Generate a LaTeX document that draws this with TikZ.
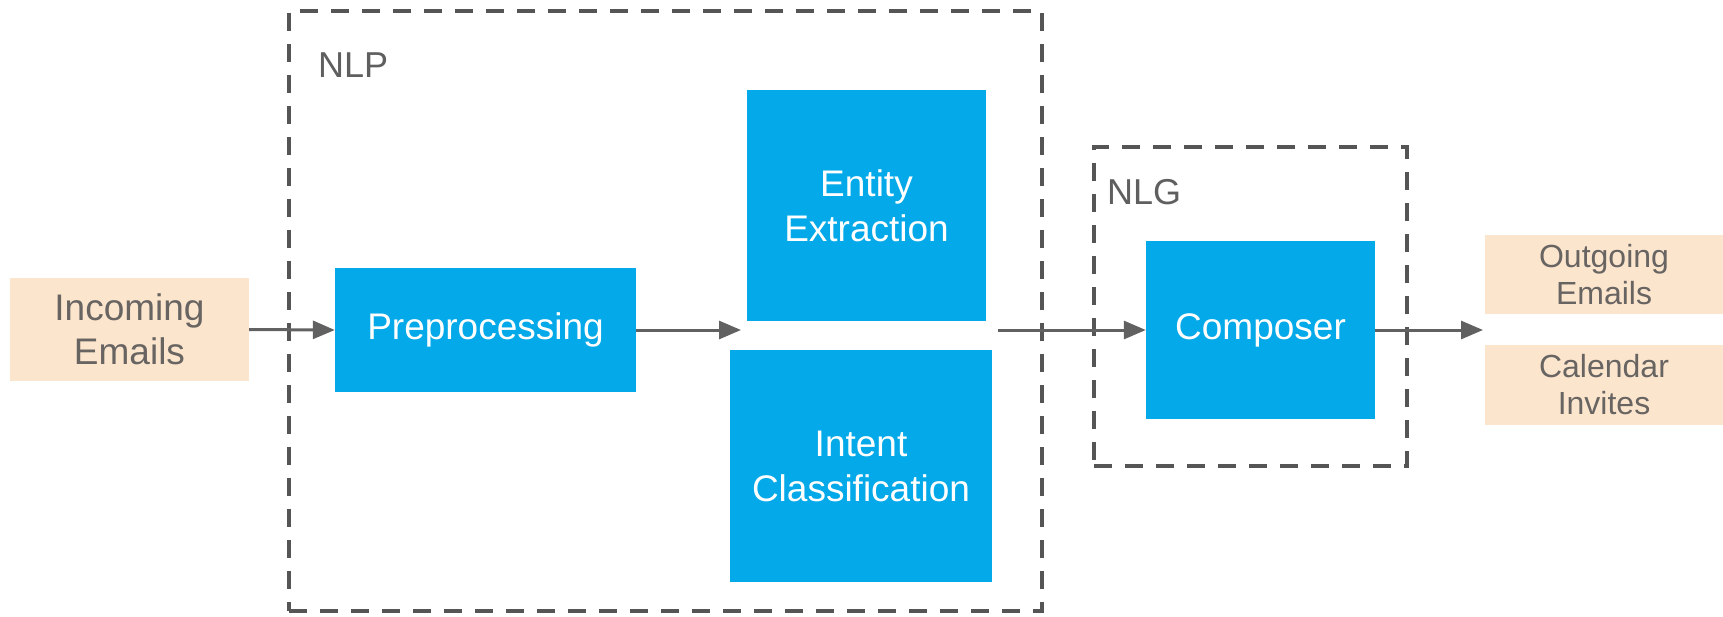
\documentclass[tikz,border=0pt]{standalone}
\usepackage{fontspec}
\setmainfont{Liberation Sans}
\usetikzlibrary{arrows.meta}
\definecolor{boxblue}{RGB}{3,169,232}
\definecolor{peach}{RGB}{252,229,205}
\definecolor{peachtext}{RGB}{104,100,98}
\definecolor{dashgray}{RGB}{85,85,85}
\definecolor{labelgray}{RGB}{95,95,95}
\definecolor{arrowgray}{RGB}{97,97,97}
\tikzset{
  bluebox/.style={fill=boxblue, draw=none, text=white, inner sep=0pt, align=center,
    font=\fontsize{37}{45}\selectfont},
  peachbox/.style={fill=peach, draw=none, text=peachtext, inner sep=0pt, align=center},
  groupbox/.style={draw=dashgray, line width=3.5pt, dash pattern=on 18pt off 13pt, inner sep=0pt},
  grouplabel/.style={text=labelgray, anchor=base west, inner sep=0pt, font=\fontsize{36}{43}\selectfont},
  flow/.style={draw=arrowgray, line width=3pt, -{Triangle[length=22pt,width=18pt]}}
}
\begin{document}
\begin{tikzpicture}[x=1pt,y=-1pt]
\useasboundingbox (0,0) rectangle (1723,616);
% group boxes
\node[groupbox, minimum width=753pt, minimum height=600pt] (nlp) at (665.5,311) {};
\node[groupbox, minimum width=313pt, minimum height=319pt] (nlg) at (1250.5,306.5) {};
\node[grouplabel] (nlplabel) at (318,77) {NLP};
\node[grouplabel] (nlglabel) at (1107,204) {NLG};
% nodes
\node[peachbox, minimum width=239pt, minimum height=103pt, font=\fontsize{37}{44}\selectfont] (inc) at (129.5,329.5) {Incoming\\Emails};
\node[bluebox, minimum width=301pt, minimum height=124pt] (pre) at (485.5,330) {Preprocessing};
\node[bluebox, minimum width=239pt, minimum height=231pt] (ent) at (866.5,205.5) {Entity\\Extraction};
\node[bluebox, minimum width=262pt, minimum height=232pt] (int) at (861,466) {Intent\\Classification};
\node[bluebox, minimum width=229pt, minimum height=178pt] (comp) at (1260.5,330) {Composer};
\node[peachbox, minimum width=238pt, minimum height=79pt, font=\fontsize{32}{37}\selectfont] (out) at (1604,274.5) {Outgoing\\Emails};
\node[peachbox, minimum width=238pt, minimum height=80pt, font=\fontsize{32}{37}\selectfont] (cal) at (1604,385) {Calendar\\Invites};
% connector ends
\coordinate (mid1) at (741,330);
\coordinate (mid2) at (998,330);
\coordinate (outtip) at (1483,330);
% connectors
\draw[flow] (inc.east) -- (pre.west);
\draw[flow] (pre.east) -- (mid1);
\draw[flow] (mid2) -- (comp.west);
\draw[flow] (comp.east) -- (outtip);
\end{tikzpicture}
\end{document}
